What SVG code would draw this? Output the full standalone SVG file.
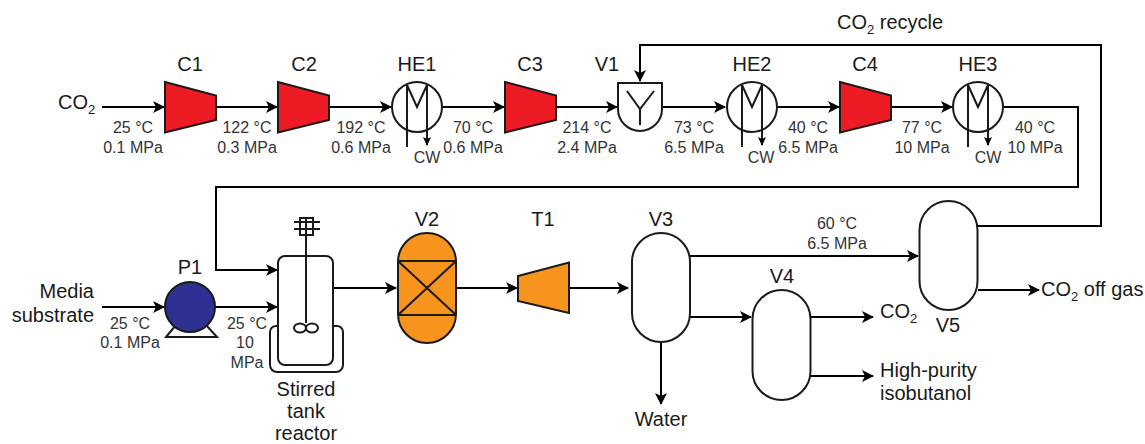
<svg xmlns="http://www.w3.org/2000/svg" width="1145" height="444" viewBox="0 0 1145 444">
<defs>
<marker id="a" markerUnits="userSpaceOnUse" markerWidth="14" markerHeight="14" refX="11" refY="7" orient="auto"><path d="M0 1L12 7L0 13L3 7Z" fill="#000"/></marker>
<marker id="b" markerUnits="userSpaceOnUse" markerWidth="10" markerHeight="10" refX="8" refY="5" orient="auto"><path d="M0 1L9 5L0 9L2 5Z" fill="#000"/></marker>
<path id="comp" d="M0 0L51 13.500V38L0 50.500Z"/>
<g id="hx"><circle r="25" fill="#fff"/><path d="M-10 -22V40M-10 -22L0 0L10 -22V38" fill="none" marker-end="url(#b)"/></g>
</defs>
<style>
text{font-family:"Liberation Sans",Arial,sans-serif;fill:#1a1a1a}
.l{font-size:20px;text-anchor:middle}
.s{font-size:16px;text-anchor:middle;fill:#333}
.sub{font-size:13px}
.eq{stroke:#1a1a1a;stroke-width:2;stroke-linejoin:miter}
.w{fill:#fff}.r{fill:#ed1c24}.o{fill:#f7941d}
#connectors path{fill:none;stroke:#000;stroke-width:2}
</style>
<g id="connectors">
<path d="M102 107H164" marker-end="url(#a)"/>
<path d="M216 107H277" marker-end="url(#a)"/>
<path d="M329 107H391" marker-end="url(#a)"/>
<path d="M442 107H504" marker-end="url(#a)"/>
<path d="M556 107H617" marker-end="url(#a)"/>
<path d="M662 107H725" marker-end="url(#a)"/>
<path d="M777 107H839" marker-end="url(#a)"/>
<path d="M891 107H952" marker-end="url(#a)"/>
<path d="M1003 107H1078V187H216V270H277" marker-end="url(#a)"/>
<path d="M978 226H1101V45H640V81" marker-end="url(#a)"/>
<path d="M102 307H164" marker-end="url(#a)"/>
<path d="M215 307H277" marker-end="url(#a)"/>
<path d="M334 288H396" marker-end="url(#a)"/>
<path d="M456 288H517" marker-end="url(#a)"/>
<path d="M569 288H628" marker-end="url(#a)"/>
<path d="M690 256H918" marker-end="url(#a)"/>
<path d="M690 317H751" marker-end="url(#a)"/>
<path d="M661 342V404" marker-end="url(#a)"/>
<path d="M811 317H873" marker-end="url(#a)"/>
<path d="M811 376H873" marker-end="url(#a)"/>
<path d="M978 290H1039" marker-end="url(#a)"/>
</g>
<g id="C1"><use href="#comp" x="165" y="82" class="eq r"/><text class="l" x="190" y="71">C1</text></g>
<g id="C2"><use href="#comp" x="278" y="82" class="eq r"/><text class="l" x="304" y="71">C2</text></g>
<g id="HE1"><use href="#hx" x="417" y="107" class="eq"/><text class="l" x="417" y="71">HE1</text><text class="s" x="427" y="163">CW</text></g>
<g id="C3"><use href="#comp" x="505" y="82" class="eq r"/><text class="l" x="530" y="71">C3</text></g>
<g id="V1"><path class="eq w" d="M618 83H662V109A22 22 0 0 1 618 109Z"/><path class="eq" fill="none" d="M627 91L640 109L654 91M640 109V125"/><text class="l" x="607" y="71">V1</text></g>
<g id="HE2"><use href="#hx" x="752" y="107" class="eq"/><text class="l" x="752" y="71">HE2</text><text class="s" x="761" y="163">CW</text></g>
<g id="C4"><use href="#comp" x="840" y="82" class="eq r"/><text class="l" x="865" y="71">C4</text></g>
<g id="HE3"><use href="#hx" x="978" y="107" class="eq"/><text class="l" x="978" y="71">HE3</text><text class="s" x="988" y="163">CW</text></g>
<g id="P1"><path class="eq" fill="none" d="M176 325L166 337H217L206 325"/><circle class="eq" cx="190" cy="307" r="25" fill="#2e3192"/><text class="l" x="190" y="274">P1</text></g>
<g id="reactor" class="eq" fill="none">
<path d="M278 326H276A6 6 0 0 0 270 332V365A7 7 0 0 0 277 372H336A7 7 0 0 0 343 365V332A6 6 0 0 0 337 326H333"/>
<rect x="278" y="256" width="55" height="109" rx="7" class="w"/>
<path d="M306 217V323M294 222H320M294 229H320"/>
<rect x="300" y="218" width="13" height="17"/>
<ellipse cx="300" cy="328" rx="6" ry="4.500"/><ellipse cx="312" cy="328" rx="6" ry="4.500"/>
</g>
<g id="reactor-label"><text class="l" x="306" y="396">Stirred</text><text class="l" x="306" y="418">tank</text><text class="l" x="306" y="439.500">reactor</text></g>
<g id="V2"><rect class="eq o" x="398" y="233" width="58" height="110" rx="29"/><path class="eq" fill="none" d="M398 261H456M398 315H456M398 261L456 315M456 261L398 315"/><text class="l" x="427" y="226">V2</text></g>
<g id="T1"><path class="eq o" d="M518 276L569 262.500V313L518 301Z"/><text class="l" x="543" y="226">T1</text></g>
<g id="V3"><rect class="eq w" x="632" y="233" width="58" height="109" rx="29"/><text class="l" x="661" y="226">V3</text></g>
<g id="V4"><rect class="eq w" x="752.500" y="290" width="58" height="110" rx="29"/><text class="l" x="782" y="283">V4</text></g>
<g id="V5"><rect class="eq w" x="919.500" y="201" width="58" height="109" rx="29"/><text class="l" x="948" y="332">V5</text></g>
<g id="stream-labels">
<text class="s" x="133" y="133">25 °C</text><text class="s" x="133" y="153">0.1 MPa</text>
<text class="s" x="247" y="133">122 °C</text><text class="s" x="247" y="153">0.3 MPa</text>
<text class="s" x="361" y="133">192 °C</text><text class="s" x="361" y="153">0.6 MPa</text>
<text class="s" x="473" y="133">70 °C</text><text class="s" x="473" y="153">0.6 MPa</text>
<text class="s" x="587" y="133">214 °C</text><text class="s" x="587" y="153">2.4 MPa</text>
<text class="s" x="694" y="133">73 °C</text><text class="s" x="694" y="153">6.5 MPa</text>
<text class="s" x="808" y="133">40 °C</text><text class="s" x="808" y="153">6.5 MPa</text>
<text class="s" x="922" y="133">77 °C</text><text class="s" x="922" y="153">10 MPa</text>
<text class="s" x="1035" y="133">40 °C</text><text class="s" x="1035" y="153">10 MPa</text>
<text class="s" x="130" y="329">25 °C</text><text class="s" x="130" y="348">0.1 MPa</text>
<text class="s" x="247" y="329">25 °C</text><text class="s" x="245" y="348">10</text><text class="s" x="247" y="368">MPa</text>
<text class="s" x="837" y="229">60 °C</text><text class="s" x="837" y="249">6.5 MPa</text>
</g>
<g id="terminals" font-size="20">
<text x="58" y="109">CO<tspan class="sub" dy="5">2</tspan></text>
<text x="837" y="29">CO<tspan class="sub" dy="5">2</tspan><tspan dy="-5"> recycle</tspan></text>
<text x="94" y="298" text-anchor="end">Media</text><text x="94" y="322" text-anchor="end">substrate</text>
<text class="l" x="661" y="426">Water</text>
<text x="880" y="318">CO<tspan class="sub" dy="5">2</tspan></text>
<text x="880" y="377">High-purity</text><text x="880" y="400">isobutanol</text>
<text x="1041" y="296">CO<tspan class="sub" dy="5">2</tspan><tspan dy="-5"> off gas</tspan></text>
</g>
</svg>
